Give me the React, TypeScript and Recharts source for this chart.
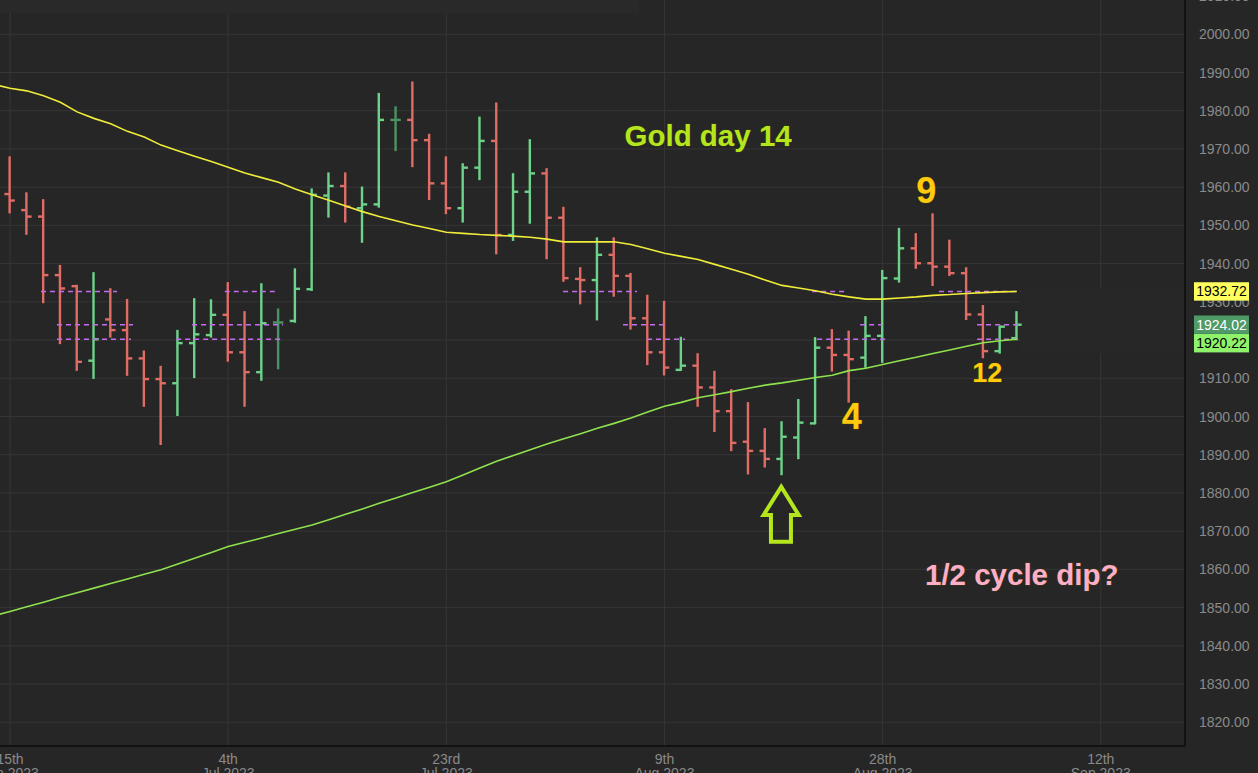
import React from "react";
import {
  ComposedChart,
  Bar,
  Line,
  XAxis,
  YAxis,
  CartesianGrid,
  ReferenceLine,
  ReferenceDot,
  ReferenceArea,
} from "recharts";

// ---------------- data ----------------
const opens = [1958.2, 1954.0, 1952.3, 1937.0, 1934.1, 1914.6, 1925.4, 1922.6, 1915.2, 1909.8, 1908.7, 1919.2, 1921.3, 1926.6, 1916.8, 1911.6, 1924.6, 1925.0, 1933.3, 1957.8, 1960.3, 1954.5, 1955.5, 1977.6, 1977.6, 1972.3, 1961.0, 1954.5, 1965.1, 1972.1, 1947.5, 1958.8, 1963.6, 1952.0, 1936.0, 1935.7, 1942.3, 1936.8, 1925.7, 1916.8, 1912.2, 1913.3, 1907.6, 1901.4, 1893.4, 1891.0, 1888.9, 1894.5, 1898.2, 1918.0, 1916.1, 1915.4, 1921.1, 1936.1, 1944.0, 1940.1, 1939.2, 1937.5, 1926.7, 1917.1, 1920.5];
const highs = [1967.8, 1958.4, 1956.6, 1939.4, 1934.2, 1937.5, 1933.3, 1930.5, 1917.0, 1913.0, 1922.4, 1930.7, 1930.4, 1934.9, 1927.3, 1934.6, 1928.0, 1938.5, 1959.4, 1963.6, 1963.6, 1959.9, 1984.4, 1980.9, 1987.4, 1973.7, 1967.8, 1966.0, 1978.2, 1981.9, 1963.4, 1972.3, 1964.7, 1954.6, 1938.8, 1946.6, 1946.6, 1937.3, 1931.6, 1930.0, 1920.6, 1916.3, 1911.7, 1906.9, 1903.5, 1896.7, 1898.5, 1904.3, 1920.5, 1922.6, 1922.2, 1926.0, 1938.1, 1949.1, 1947.7, 1952.9, 1946.0, 1938.8, 1928.9, 1923.5, 1927.3];
const lows = [1953.4, 1947.8, 1929.9, 1919.2, 1912.2, 1910.1, 1920.9, 1910.9, 1902.8, 1892.8, 1900.4, 1910.3, 1920.9, 1914.6, 1902.8, 1909.6, 1912.6, 1924.8, 1933.1, 1952.3, 1951.0, 1945.7, 1954.9, 1969.7, 1965.5, 1956.9, 1953.2, 1951.0, 1962.1, 1942.7, 1946.2, 1950.7, 1941.4, 1935.5, 1929.6, 1925.4, 1931.6, 1923.0, 1913.7, 1911.0, 1912.2, 1902.8, 1896.2, 1891.2, 1885.1, 1886.9, 1884.9, 1889.1, 1898.2, 1912.0, 1903.9, 1913.0, 1914.3, 1935.3, 1938.9, 1934.4, 1937.0, 1925.5, 1915.5, 1916.7, 1920.2];
const closes = [1956.5, 1952.3, 1937.0, 1933.5, 1914.3, 1920.2, 1922.6, 1915.2, 1909.8, 1908.7, 1919.2, 1921.5, 1926.6, 1916.8, 1911.6, 1924.4, 1924.6, 1933.4, 1958.0, 1960.3, 1954.9, 1955.5, 1977.6, 1977.6, 1972.3, 1961.0, 1954.5, 1965.1, 1972.1, 1947.5, 1958.8, 1963.6, 1952.0, 1936.2, 1935.7, 1942.3, 1936.8, 1925.7, 1916.8, 1912.8, 1913.3, 1907.6, 1901.4, 1893.1, 1891.0, 1888.9, 1894.7, 1898.4, 1918.0, 1916.1, 1915.0, 1921.1, 1936.2, 1944.0, 1940.1, 1939.2, 1937.5, 1926.7, 1917.1, 1923.5, 1924.02];

// moving averages start one bar before the first visible bar (index -1)
const maStartIdx = -1;
const ma50 = [1986.9, 1985.9, 1985.2, 1983.9, 1982.2, 1979.7, 1978.0, 1976.6, 1974.6, 1973.1, 1971.0, 1969.5, 1968.1, 1966.7, 1965.2, 1963.7, 1962.5, 1961.3, 1959.5, 1958.0, 1956.6, 1955.1, 1953.6, 1952.3, 1951.2, 1950.1, 1949.2, 1948.2, 1947.9, 1947.6, 1947.4, 1947.2, 1946.9, 1946.4, 1945.7, 1945.7, 1945.7, 1945.7, 1945.0, 1943.9, 1942.7, 1941.9, 1941.1, 1939.8, 1938.5, 1937.2, 1935.7, 1934.3, 1933.6, 1932.9, 1932.0, 1931.3, 1930.7, 1930.7, 1931.0, 1931.3, 1931.7, 1931.9, 1932.2, 1932.4, 1932.6, 1932.72];
const ma200 = [1847.8, 1849.0, 1850.2, 1851.4, 1852.7, 1853.9, 1855.1, 1856.3, 1857.5, 1858.7, 1859.9, 1861.4, 1862.9, 1864.4, 1866.0, 1867.1, 1868.2, 1869.4, 1870.5, 1871.6, 1873.0, 1874.4, 1875.8, 1877.3, 1878.7, 1880.1, 1881.5, 1882.9, 1884.7, 1886.5, 1888.3, 1889.8, 1891.3, 1892.8, 1894.2, 1895.5, 1896.9, 1898.2, 1899.6, 1901.2, 1902.7, 1903.7, 1904.9, 1905.7, 1906.5, 1907.4, 1908.2, 1908.8, 1909.5, 1910.2, 1910.8, 1912.0, 1912.6, 1913.6, 1914.6, 1915.5, 1916.5, 1917.4, 1918.4, 1919.3, 1919.8, 1920.22];

const xTickIdx = [0, 13, 26, 39, 52, 65];
const xTickDay = ["15th", "4th", "23rd", "9th", "28th", "12th"];
const xTickMonth = ["Jun 2023", "Jul 2023", "Jul 2023", "Aug 2023", "Aug 2023", "Sep 2023"];

const yTickValues = [1810, 1820, 1830, 1840, 1850, 1860, 1870, 1880, 1890, 1900, 1910, 1920, 1930, 1940, 1950, 1960, 1970, 1980, 1990, 2000, 2010];
const gridValues = [1820, 1830, 1840, 1850, 1860, 1870, 1880, 1890, 1900, 1910, 1920, 1930, 1940, 1950, 1960, 1970, 1980, 1990, 2000];

// last-value badges on the price axis
const lastValues = [1932.72, 1924.02, 1920.22];
const lastTexts = ["1932.72", "1924.02", "1920.22"];

// dashed price-line fragments: [fromIndex, toIndex] per level
const dashLevels = [1932.72, 1924.02, 1920.22];
const dashSegs = [
  [[1.85, 6.38], [12.8, 15.9], [32.96, 37.37], [47.8, 49.76], [55.36, 60.2]],
  [[2.8, 7.33], [10.85, 16.27], [36.53, 39.21], [50.66, 51.97], [57.63, 60.2]],
  [[2.8, 7.21], [9.9, 16.27], [37.96, 40.23], [48.1, 52.15], [57.63, 60.2]],
];

const noteTexts = ["Gold day 14", "9", "4", "12", "1/2 cycle dip?"];
const noteIdx = [41.6, 54.6, 50.16, 58.23, 60.29];
const noteValues = [1970.85, 1955.8, 1896.65, 1908.95, 1855.9];
const arrowIdx = 45.96;
const arrowValue = 1881.6;

// background patches left over from the screenshot
const patchX = [60.2, 70.02];
const patchY = [1916.4, 1933.6];
const stripX = [-0.596, 37.5];
const stripY = [2005.6, 2008.97];

// ---------------- layout & style ----------------
const W = 1258;
const H = 773;
const PLOT_W = 1185;
const PLOT_H = 746;
const X_DOMAIN: [number, number] = [-0.596, 70.02];
const Y_DOMAIN: [number, number] = [1813.79, 2008.97];
const BG = "#262626";
const GRID = "#363636";
const UP = "#6dd38a";
const DOWN = "#e06c66";
const FLAT = "#4b9363";
const FONT = "'Liberation Sans', Arial, sans-serif";

const noteColors = ["#b5e61d", "#ffc90e", "#ffc90e", "#ffc90e", "#ffaec9"];
const noteSizes = [29.5, 36, 36, 27, 29.5];
const lastBg = ["#ffff5e", "#4f9a66", "#8ef26a"];
const lastFg = ["#000000", "#ffffff", "#000000"];
const lastShift = [0, 0, 4];

// ---------------- table ----------------
const rows = ma50.map((m, k) => {
  const idx = maStartIdx + k;
  const row: any = { idx, ma50: m, ma200: ma200[k] };
  if (idx >= 0) {
    row.o = opens[idx];
    row.h = highs[idx];
    row.l = lows[idx];
    row.c = closes[idx];
    row.range = [lows[idx], highs[idx]];
  }
  return row;
});

// price-axis ticks: round levels first, badges last so they paint on top
const priceTicks = yTickValues.concat(lastValues);

const OhlcShape = (props: any) => {
  const { x, y, width, height, payload } = props;
  if (!payload || payload.o == null || !isFinite(y)) return null;
  const { o, h, l, c } = payload;
  const cx = x + width / 2;
  const span = h - l;
  const py = (v: number) => (span === 0 ? y : y + ((h - v) / span) * height);
  const color = c > o ? UP : c < o ? DOWN : FLAT;
  const lw = 2.4;
  const tick = 4;
  return (
    <g>
      <rect x={cx - lw / 2} y={y - 1} width={lw} height={Math.max(height, 0) + 2} fill={color} />
      <rect x={cx - lw / 2 - tick} y={py(o) - lw / 2} width={tick + lw / 2} height={lw} fill={color} />
      <rect x={cx} y={py(c) - lw / 2} width={tick + lw / 2} height={lw} fill={color} />
    </g>
  );
};

const XTick = (props: any) => {
  const { x, y, payload } = props;
  const i = xTickIdx.indexOf(payload.value);
  if (i < 0) return null;
  return (
    <g>
      <text x={x} y={y + 16} textAnchor="middle" fill="#8a8a8a" fontSize={14} fontFamily={FONT}>
        {xTickDay[i]}
      </text>
      <text x={x} y={y + 30} textAnchor="middle" fill="#8a8a8a" fontSize={14} fontFamily={FONT}>
        {xTickMonth[i]}
      </text>
    </g>
  );
};

const YTick = (props: any) => {
  const { y, payload } = props;
  const bi = lastValues.indexOf(payload.value);
  if (bi >= 0) {
    const x0 = PLOT_W + 9;
    const cy = y + lastShift[bi];
    return (
      <g>
        <rect x={x0} y={cy - 9.2} width={55} height={18.4} fill={lastBg[bi]} />
        <text x={x0 + 27.5} y={cy} dy="0.36em" textAnchor="middle" fill={lastFg[bi]} fontSize={14} fontFamily={FONT}>
          {lastTexts[bi]}
        </text>
      </g>
    );
  }
  return (
    <svg x={PLOT_W} y={0} width={W - PLOT_W} height={PLOT_H} overflow="hidden">
      <text x={14} y={y} dy="0.36em" fill="#8a8a8a" fontSize={14} fontFamily={FONT}>
        {Number(payload.value).toFixed(2)}
      </text>
    </svg>
  );
};

const makeNote = (i: number) => (props: any) => {
  const { cx, cy } = props;
  return (
    <text
      x={cx}
      y={cy}
      textAnchor="middle"
      fill={noteColors[i]}
      fontSize={noteSizes[i]}
      fontWeight={700}
      fontFamily={FONT}
      stroke="#3a3a10"
      strokeWidth={1}
      paintOrder="stroke"
    >
      {noteTexts[i]}
    </text>
  );
};

const ArrowShape = (props: any) => {
  const { cx, cy } = props;
  const pts = [
    [0, 0],
    [17.5, 28.3],
    [9.7, 28.3],
    [9.7, 55],
    [-10.3, 55],
    [-10.3, 28.3],
    [-17.7, 28.3],
  ]
    .map(([dx, dy]) => `${cx + dx},${cy + dy}`)
    .join(" ");
  return <polygon points={pts} fill="none" stroke="#b5e61d" strokeWidth={4} strokeLinejoin="miter" />;
};

export default function App() {
  return (
    <div style={{ position: "absolute", left: 0, top: 0, width: W, height: H, background: BG, overflow: "hidden" }}>
      <ComposedChart
        width={W}
        height={H}
        data={rows}
        margin={{ top: 0, right: 0, bottom: 0, left: 0 }}
        style={{ background: BG }}
      >
        <CartesianGrid stroke={GRID} horizontalValues={gridValues} verticalValues={xTickIdx} />
        <XAxis
          dataKey="idx"
          type="number"
          domain={X_DOMAIN}
          allowDataOverflow
          ticks={xTickIdx}
          interval={0}
          tick={<XTick />}
          tickLine={false}
          tickSize={0}
          axisLine={{ stroke: "#0c0c0c", strokeWidth: 1.5 }}
          height={H - PLOT_H}
        />
        <YAxis
          orientation="right"
          type="number"
          domain={Y_DOMAIN}
          allowDataOverflow
          ticks={priceTicks}
          interval={0}
          tick={<YTick />}
          tickLine={false}
          tickSize={0}
          axisLine={{ stroke: "#0c0c0c", strokeWidth: 1.5 }}
          width={W - PLOT_W}
        />
        <ReferenceArea
          x1={stripX[0]}
          x2={stripX[1]}
          y1={stripY[0]}
          y2={stripY[1]}
          fill="#292929"
          fillOpacity={1}
          stroke="none"
          ifOverflow="hidden"
        />
        <ReferenceArea
          x1={patchX[0]}
          x2={patchX[1]}
          y1={patchY[0]}
          y2={patchY[1]}
          fill="#272727"
          fillOpacity={1}
          stroke="none"
          ifOverflow="hidden"
        />
        {dashLevels.map((v, li) =>
          dashSegs[li].map((s, si) => (
            <ReferenceLine
              key={`d${li}-${si}`}
              segment={[
                { x: s[0], y: v },
                { x: s[1], y: v },
              ]}
              stroke="#c86af0"
              strokeWidth={1.5}
              strokeDasharray="5 4"
              ifOverflow="hidden"
            />
          ))
        )}
        <Line
          dataKey="ma50"
          type="linear"
          stroke="#f0ec3a"
          strokeWidth={1.6}
          dot={false}
          activeDot={false}
          isAnimationActive={false}
        />
        <Line
          dataKey="ma200"
          type="linear"
          stroke="#8fe24e"
          strokeWidth={1.6}
          dot={false}
          activeDot={false}
          isAnimationActive={false}
        />
        <Bar dataKey="range" barSize={10} shape={<OhlcShape />} isAnimationActive={false} />
        {noteTexts.map((t, i) => (
          <ReferenceDot
            key={`n${i}`}
            x={noteIdx[i]}
            y={noteValues[i]}
            r={0}
            ifOverflow="visible"
            shape={makeNote(i)}
          />
        ))}
        <ReferenceDot x={arrowIdx} y={arrowValue} r={0} ifOverflow="visible" shape={ArrowShape} />
      </ComposedChart>
    </div>
  );
}
